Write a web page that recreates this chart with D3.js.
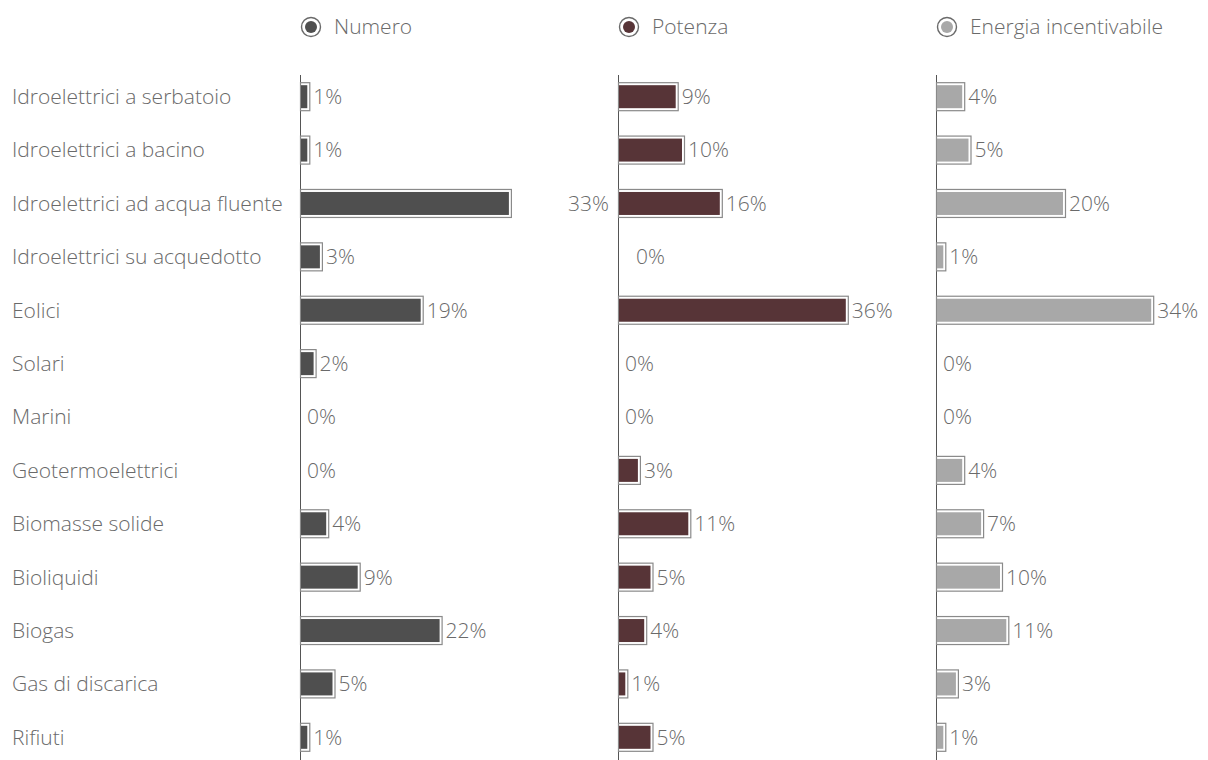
<!DOCTYPE html>
<html>
<head>
<meta charset="utf-8">
<script src="https://cdn.jsdelivr.net/npm/d3@7"></script>
<style>
  html, body { margin: 0; padding: 0; background: #fff; }
  svg text { font-family: "Open Sans", Roboto, sans-serif; font-weight: 300; }
</style>
</head>
<body>
<svg id="chart" width="1208" height="760"></svg>
<script>
// Categorie di impianto
const categories = [
  "Idroelettrici a serbatoio",
  "Idroelettrici a bacino",
  "Idroelettrici ad acqua fluente",
  "Idroelettrici su acquedotto",
  "Eolici",
  "Solari",
  "Marini",
  "Geotermoelettrici",
  "Biomasse solide",
  "Bioliquidi",
  "Biogas",
  "Gas di discarica",
  "Rifiuti"
];

// Serie (valori percentuali)
const seriesNames = ["Numero", "Potenza", "Energia incentivabile"];
const numero   = [1, 1, 33, 3, 19, 2, 0, 0, 4, 9, 22, 5, 1];
const potenza  = [9, 10, 16, 0, 36, 0, 0, 3, 11, 5, 4, 1, 5];
const energia  = [4, 5, 20, 1, 34, 0, 0, 4, 7, 10, 11, 3, 1];
const seriesValues = [numero, potenza, energia];
const seriesColors = ["#4f4f4f", "#573437", "#a8a8a8"];

const svg = d3.select("#chart");

// Posizione delle tre colonne (asse verticale di ciascun pannello)
const panelX = d3.scalePoint().domain(seriesNames).range([300, 936]);
const panelStep = panelX.step();

// Righe
const y = d3.scaleBand().domain(categories).range([70, 764]).padding(0);
const rowC = d => y(d) + y.bandwidth() / 2;

// Lunghezza barre
const x = d3.scaleLinear().domain([0, 50]).range([0, 315]);

const textColor = "#6a6a6a";
const outlineColor = "#8a8a8a";
const fontSize = 21;
const outerH = 29, innerH = 23, gap = 3;

// Etichette delle categorie
svg.append("g").selectAll("text")
  .data(categories)
  .join("text")
  .attr("x", 12)
  .attr("y", d => rowC(d))
  .attr("dy", "0.35em")
  .attr("fill", textColor)
  .attr("font-size", fontSize)
  .text(d => d);

// Etichette posizionate in modo particolare (serie, categoria)
function labelX(si, ci, v, x0) {
  if (si === 0 && ci === 2) return { x: x0 + panelStep - 9, anchor: "end" };
  if (si === 1 && ci === 3) return { x: x0 + 18, anchor: "start" };
  const w = v > 0 ? x(v) + gap : gap;
  return { x: x0 + w + 4, anchor: "start" };
}

seriesNames.forEach((name, si) => {
  const x0 = panelX(name);
  const g = svg.append("g");
  const rows = categories.map((c, ci) => ({ c, ci, v: seriesValues[si][ci] }));

  // Asse verticale
  g.append("line")
    .attr("x1", x0 + 0.5).attr("x2", x0 + 0.5)
    .attr("y1", 75).attr("y2", 760)
    .attr("stroke", "#555").attr("stroke-width", 1);

  // Legenda
  const lg = g.append("g").attr("transform", `translate(${x0 + 11},27)`);
  lg.append("circle").attr("r", 9.5).attr("fill", "#fff")
    .attr("stroke", "#6a6a6a").attr("stroke-width", 1.4);
  lg.append("circle").attr("r", 6).attr("fill", seriesColors[si]);
  lg.append("text").attr("x", 23).attr("dy", "0.35em")
    .attr("fill", textColor).attr("font-size", fontSize).text(name);

  const bars = rows.filter(d => d.v > 0);

  // Contorno esterno
  g.selectAll("rect.outer").data(bars).join("rect")
    .attr("class", "outer")
    .attr("x", x0 + 0.5)
    .attr("y", d => rowC(d.c) - outerH / 2 + 0.5)
    .attr("width", d => x(d.v) + gap)
    .attr("height", outerH - 1)
    .attr("fill", "#fff")
    .attr("stroke", outlineColor)
    .attr("stroke-width", 1.2);

  // Barra piena
  g.selectAll("rect.inner").data(bars).join("rect")
    .attr("class", "inner")
    .attr("x", x0 + 1)
    .attr("y", d => rowC(d.c) - innerH / 2)
    .attr("width", d => x(d.v))
    .attr("height", innerH)
    .attr("fill", seriesColors[si]);

  // Valori
  g.selectAll("text.val").data(rows).join("text")
    .attr("class", "val")
    .each(function(d) {
      const p = labelX(si, d.ci, d.v, x0);
      d3.select(this).attr("x", p.x).attr("text-anchor", p.anchor);
    })
    .attr("y", d => rowC(d.c))
    .attr("dy", "0.35em")
    .attr("fill", textColor)
    .attr("font-size", fontSize)
    .text(d => d.v + "%");
});
</script>
</body>
</html>
